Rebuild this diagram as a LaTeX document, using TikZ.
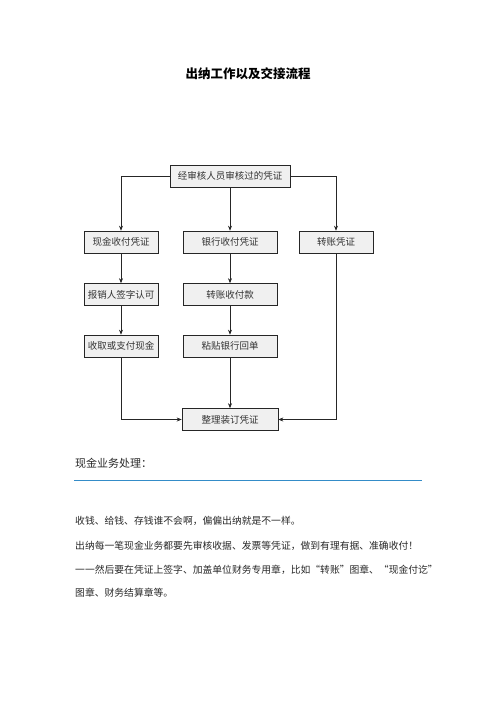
\documentclass[tikz,border=0pt]{standalone}
\usepackage{fontspec}
\setmainfont{Noto Sans CJK SC}
\newfontfamily\cjk{Noto Sans CJK SC}
\usetikzlibrary{arrows.meta}
\definecolor{ruleblue}{RGB}{52,140,200}
\definecolor{bodygray}{RGB}{40,40,40}
\tikzset{
  flowbox/.style={draw=black!85, fill=gray!12, line width=0.6pt, minimum height=22pt,
    inner sep=0pt, font=\cjk\fontsize{9.5}{9.5}\selectfont, text=black!80},
  flowline/.style={->, line width=0.6pt, draw=black!85},
  bodytext/.style={anchor=west, inner sep=0pt, font=\cjk\fontsize{9.8}{9.8}\selectfont, text=bodygray}
}
\begin{document}
\begin{tikzpicture}[x=1pt, y=-1pt, >={Stealth[length=5pt, width=4pt]}]
  \useasboundingbox (0,0) rectangle (496,702);
  \node[font=\cjk\bfseries\fontsize{12.5}{12.5}\selectfont] (title) at (248,74) {出纳工作以及交接流程};
  % flow chart
  \node[flowbox, minimum width=120pt] (audit) at (230,176) {经审核人员审核过的凭证};
  \node[flowbox, minimum width=74pt] (cash) at (121,242) {现金收付凭证};
  \node[flowbox, minimum width=94pt] (bank) at (230,242) {银行收付凭证};
  \node[flowbox, minimum width=74pt] (xfer) at (336,242) {转账凭证};
  \node[flowbox, minimum width=74pt] (sign) at (121,294.5) {报销人签字认可};
  \node[flowbox, minimum width=94pt] (remit) at (230,294.5) {转账收付款};
  \node[flowbox, minimum width=74pt] (pay) at (121,346) {收取或支付现金};
  \node[flowbox, minimum width=94pt] (slip) at (230,346) {粘贴银行回单};
  \node[flowbox, minimum width=96pt] (bind) at (230,419.5) {整理装订凭证};
  \draw[flowline] (audit.west) -| (cash.north);
  \draw[flowline] (audit) -- (bank);
  \draw[flowline] (audit.east) -| (xfer.north);
  \draw[flowline] (cash) -- (sign);
  \draw[flowline] (sign) -- (pay);
  \draw[flowline] (bank) -- (remit);
  \draw[flowline] (remit) -- (slip);
  \draw[flowline] (slip) -- (bind);
  \draw[flowline] (pay.south) |- (bind.west);
  \draw[flowline] (xfer.south) |- (bind.east);
  % text below
  \node[anchor=west, inner sep=0pt, font=\cjk\fontsize{11}{11}\selectfont, text=bodygray] (head) at (75,463) {现金业务处理：};
  \coordinate (ruleL) at (74,480);
  \coordinate (ruleR) at (422,480);
  \draw[ruleblue, line width=0.8pt] (ruleL) -- (ruleR);
  \node[bodytext] (line1) at (75,521) {收钱、给钱、存钱谁不会啊，偏偏出纳就是不一样。};
  \node[bodytext] (line2) at (75,546) {出纳每一笔现金业务都要先审核收据、发票等凭证，做到有理有据、准确收付！};
  \node[bodytext] (line3) at (75,570) {一一然后要在凭证上签字、加盖单位财务专用章，比如“转账”图章、“现金付讫”};
  \node[bodytext] (line4) at (75,593) {图章、财务结算章等。};
\end{tikzpicture}
\end{document}
